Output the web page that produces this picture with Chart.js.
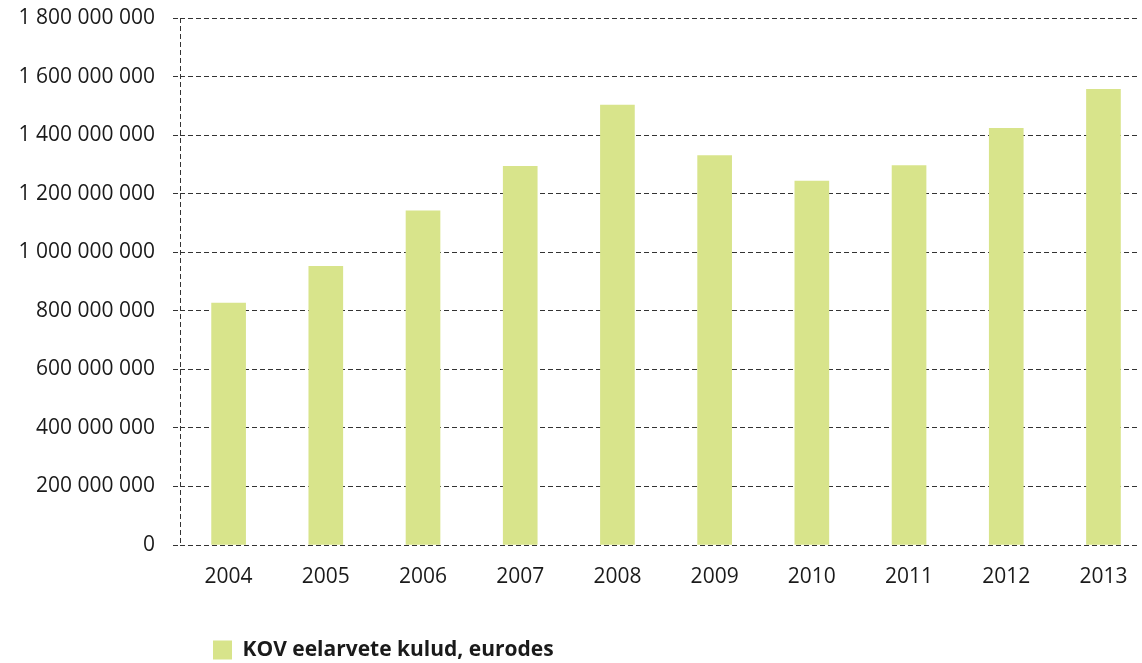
<!DOCTYPE html>
<html>
<head>
<meta charset="utf-8">
<script src="https://cdn.jsdelivr.net/npm/chart.js@4.4.1/dist/chart.umd.min.js"></script>
<style>
html,body{margin:0;padding:0;background:#fff;overflow:hidden}
#wrap{width:1142px;height:663px;position:relative}
</style>
</head>
<body>
<div id="wrap"><canvas id="c" width="1142" height="663"></canvas></div>
<script>
// ---- data ----
const years = [2004, 2005, 2006, 2007, 2008, 2009, 2010, 2011, 2012, 2013];
const expenses = [826e6, 952e6, 1141e6, 1293e6, 1503e6, 1330e6, 1243e6, 1296e6, 1423e6, 1556e6];
const yTickValues = [0, 2e8, 4e8, 6e8, 8e8, 10e8, 12e8, 14e8, 16e8, 18e8];
const seriesLabel = 'KOV eelarvete kulud, eurodes';

const axisStart = 2003.5;
const gridColor = '#333333';
const textColor = '#1a1a1a';

function spaced(v) {
  return String(Math.round(v)).replace(/\B(?=(\d{3})+(?!\d))/g, ' ');
}

Chart.defaults.font.family = "'Open Sans', 'Noto Sans', sans-serif";
Chart.defaults.color = textColor;

const legendShift = {
  id: 'legendShift',
  afterLayout(chart) {
    const l = chart.legend;
    if (!l) return;
    const pad = l.options.labels.padding;
    const dx = 213 - pad - l.left;
    l.left += dx; l.right += dx;
    const dy = 7.5;
    l.top += dy; l.bottom += dy;
  }
};

new Chart(document.getElementById('c'), {
  type: 'bar',
  data: {
    datasets: [{
      label: seriesLabel,
      data: years.map((y, i) => ({ x: y, y: expenses[i] })),
      backgroundColor: '#d8e48b',
      borderWidth: 0,
      barThickness: 34
    }]
  },
  options: {
    responsive: false,
    animation: false,
    devicePixelRatio: 1,
    layout: { padding: { top: 18, right: 5, left: 0, bottom: 0 } },
    plugins: {
      tooltip: { enabled: false },
      legend: {
        position: 'bottom',
        align: 'start',
        labels: {
          boxWidth: 19,
          boxHeight: 19,
          padding: 10,
          color: textColor,
          font: { size: 21, weight: 'bold' }
        }
      }
    },
    scales: {
      x: {
        type: 'linear',
        min: axisStart,
        max: 2013.345,
        offset: false,
        afterBuildTicks: s => { s.ticks = [{ value: axisStart }].concat(years.map(v => ({ value: v }))); },
        afterFit: s => { s.height = 77; s.paddingLeft = 0; s.paddingRight = 0; },
        ticks: {
          autoSkip: false,
          maxRotation: 0,
          padding: 19,
          color: textColor,
          font: { size: 21 },
          callback: v => (years.includes(v) ? String(v) : '')
        },
        grid: {
          offset: false,
          drawTicks: false,
          lineWidth: 1,
          color: c => (c.tick && c.tick.value === axisStart ? gridColor : 'rgba(0,0,0,0)')
        },
        border: { display: false, dash: [5, 3] }
      },
      y: {
        min: 0,
        max: 1.8e9,
        afterBuildTicks: s => { s.ticks = yTickValues.map(v => ({ value: v })); },
        afterFit: s => { s.width = 180; s.paddingTop = 0; s.paddingBottom = 0; },
        ticks: {
          padding: 18,
          color: textColor,
          font: { size: 21 },
          callback: v => spaced(v)
        },
        grid: {
          color: gridColor,
          lineWidth: 1,
          drawTicks: true,
          tickLength: 7,
          tickColor: gridColor,
          tickBorderDash: [5, 3]
        },
        border: { display: false, dash: [5, 3] }
      }
    }
  },
  plugins: [legendShift]
});
</script>
</body>
</html>
